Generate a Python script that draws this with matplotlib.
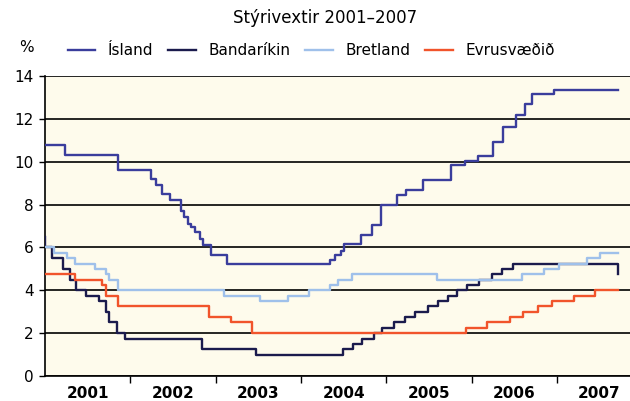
import matplotlib
matplotlib.use('Agg')
import matplotlib.pyplot as plt
import pandas as pd

END = "2007-09-18"

# Stýrivextir (%), dagsetning breytingar og nýtt gildi
is_dates = ["2001-01-01", "2001-03-27", "2001-11-08", "2002-04-01", "2002-04-23", "2002-05-15",
            "2002-06-20", "2002-08-04", "2002-08-18", "2002-09-06", "2002-09-20", "2002-10-05",
            "2002-10-27", "2002-11-10", "2002-12-13", "2003-02-20", "2004-05-05", "2004-05-27",
            "2004-06-20", "2004-07-05", "2004-09-13", "2004-10-30", "2004-12-10", "2005-02-17",
            "2005-03-25", "2005-06-06", "2005-10-05", "2005-12-02", "2006-01-30", "2006-04-01",
            "2006-05-15", "2006-07-12", "2006-08-18", "2006-09-16", "2006-12-21", END]
is_vals = [10.8, 10.3, 9.6, 9.2, 8.9, 8.5,
           8.2, 7.7, 7.4, 7.1, 6.95, 6.7,
           6.4, 6.1, 5.65, 5.25, 5.4, 5.65,
           5.85, 6.15, 6.6, 7.05, 8.0, 8.45,
           8.7, 9.15, 9.85, 10.05, 10.25, 10.9,
           11.6, 12.2, 12.7, 13.15, 13.35, 13.35]

us_dates = ["2001-01-01", "2001-01-03", "2001-01-31", "2001-03-20", "2001-04-18", "2001-05-15",
            "2001-06-27", "2001-08-21", "2001-09-17", "2001-10-02", "2001-11-06", "2001-12-11",
            "2002-11-06", "2003-06-25", "2004-06-30", "2004-08-10", "2004-09-21", "2004-11-10",
            "2004-12-14", "2005-02-02", "2005-03-22", "2005-05-03", "2005-06-30", "2005-08-09",
            "2005-09-20", "2005-11-01", "2005-12-13", "2006-01-31", "2006-03-28", "2006-05-10",
            "2006-06-29", END]
us_vals = [6.5, 6.0, 5.5, 5.0, 4.5, 4.0,
           3.75, 3.5, 3.0, 2.5, 2.0, 1.75,
           1.25, 1.0, 1.25, 1.5, 1.75, 2.0,
           2.25, 2.5, 2.75, 3.0, 3.25, 3.5,
           3.75, 4.0, 4.25, 4.5, 4.75, 5.0,
           5.25, 4.75]

uk_dates = ["2001-01-01", "2001-02-08", "2001-04-05", "2001-05-10", "2001-08-02", "2001-09-18",
            "2001-10-04", "2001-11-08", "2003-02-06", "2003-07-10", "2003-11-06", "2004-02-05",
            "2004-05-06", "2004-06-10", "2004-08-05", "2005-08-04", "2006-08-03", "2006-11-09",
            "2007-01-11", "2007-05-10", "2007-07-05", END]
uk_vals = [6.0, 5.75, 5.5, 5.25, 5.0, 4.75,
           4.5, 4.0, 3.75, 3.5, 3.75, 4.0,
           4.25, 4.5, 4.75, 4.5, 4.75, 5.0,
           5.25, 5.5, 5.75, 5.75]

eu_dates = ["2001-01-01", "2001-05-11", "2001-08-31", "2001-09-18", "2001-11-09", "2002-12-06",
            "2003-03-07", "2003-06-06", "2005-12-06", "2006-03-08", "2006-06-15", "2006-08-09",
            "2006-10-11", "2006-12-13", "2007-03-14", "2007-06-13", END]
eu_vals = [4.75, 4.5, 4.25, 3.75, 3.25, 2.75,
           2.5, 2.0, 2.25, 2.5, 2.75, 3.0,
           3.25, 3.5, 3.75, 4.0, 4.0]

series = [
    ("Ísland", is_dates, is_vals, "#3a3d9c"),
    ("Bandaríkin", us_dates, us_vals, "#1b1b4d"),
    ("Bretland", uk_dates, uk_vals, "#9fc0ea"),
    ("Evrusvæðið", eu_dates, eu_vals, "#f1542b"),
]
years = list(range(2001, 2008))

fig = plt.figure(figsize=(6.30, 4.01), dpi=100)
fig.patch.set_facecolor("white")
ax = fig.add_axes([45 / 630, 25 / 401, 585 / 630, 300 / 401])
ax.set_facecolor("#fefbec")

for name, d, v, c in series:
    ax.step(pd.to_datetime(d), v, where="post", color=c, lw=1.7, label=name, zorder=3)

ax.set_ylim(0, 14)
ax.set_yticks(range(0, 15, 2))
ax.yaxis.grid(True, color="black", lw=1.2, zorder=1)
ax.set_axisbelow(True)
ax.set_xlim(pd.Timestamp("2001-01-01"), pd.Timestamp("2007-11-10"))

ax.set_xticks(pd.to_datetime([f"{y}-01-01" for y in years[1:]]))
ax.set_xticklabels([])
ax.set_xticks(pd.to_datetime([f"{y}-07-02" for y in years]), minor=True)
ax.set_xticklabels([str(y) for y in years], minor=True)
ax.tick_params(axis="x", which="major", length=5, width=1, color="black")
ax.tick_params(axis="x", which="minor", length=0, pad=7, labelsize=11)
ax.tick_params(axis="y", length=4, width=1, labelsize=11, pad=4)
for lbl in ax.get_xticklabels(minor=True):
    lbl.set_fontweight("bold")

for s in ["top", "right"]:
    ax.spines[s].set_visible(False)
ax.spines["left"].set_linewidth(1.2)
ax.spines["bottom"].set_linewidth(1.2)

fig.text(0.516, 0.955, "Stýrivextir 2001–2007", ha="center", va="center", fontsize=12)
fig.text(0.03, 0.882, "%", ha="left", va="center", fontsize=11)
ax.legend(loc="center", bbox_to_anchor=(0.455, 1.085), ncol=4, frameon=False, fontsize=11,
          handlelength=1.8, columnspacing=1.0, handletextpad=0.8, borderaxespad=0)

fig.savefig("out.png", dpi=100, facecolor="white")
